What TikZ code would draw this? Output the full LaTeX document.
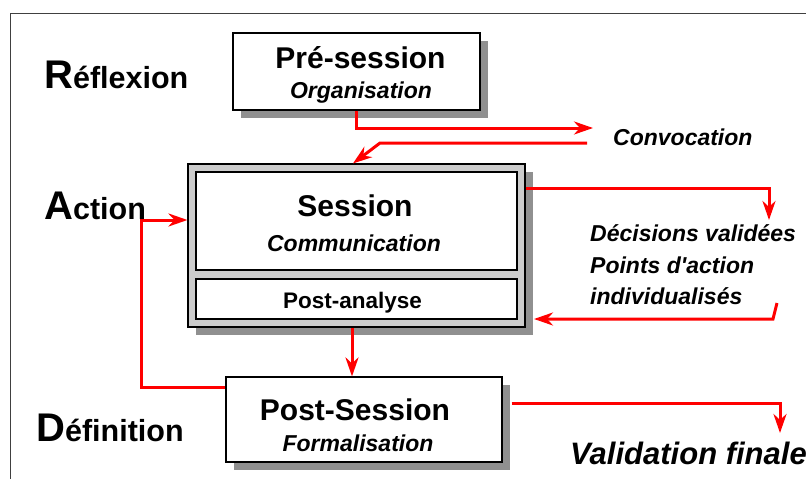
\documentclass[tikz,border=0pt]{standalone}
\usepackage{fontspec}
\setmainfont{Liberation Sans}
\usetikzlibrary{arrows.meta,shadows}

\definecolor{flowred}{HTML}{FF0000}
\definecolor{shadegray}{HTML}{909090}
\definecolor{framegray}{HTML}{CCCCCC}
\definecolor{edgegray}{HTML}{404040}

\newcommand{\fsz}[1]{\fontsize{#1}{#1}\selectfont}

\tikzset{
  x=1pt, y=-1pt,
  box/.style={draw=black, line width=1.1pt, fill=white, inner sep=0pt},
  shadowed/.style={general shadow={fill=shadegray, shadow xshift=8pt, shadow yshift=-8pt}},
  txt/.style={inner sep=0pt, anchor=base},
  lbl/.style={inner sep=0pt, anchor=base west},
  flow/.style={draw=flowred, line width=3pt,
    -{Stealth[length=19pt, width=13pt, inset=6pt]}},
}

\begin{document}
\begin{tikzpicture}
\useasboundingbox (0,0) rectangle (806,479);

% outer frame (only top and left edges fall inside the page)
\draw[edgegray, line width=1pt] (806,13) -- (10,13) -- (10,479);

% boxes
\node[box, shadowed, minimum width=247pt, minimum height=77pt] (pre) at (356.5,71.5) {};
\node[box, shadowed, fill=framegray, minimum width=337pt, minimum height=163pt] (sessouter) at (356.5,245.5) {};
\node[box, minimum width=321pt, minimum height=98pt] (sess) at (356.5,221) {};
\node[box, minimum width=321pt, minimum height=40pt] (postan) at (356.5,299) {};
\node[box, shadowed, minimum width=276pt, minimum height=85pt] (postsess) at (364,419.5) {};

% box texts
\node[txt] (pretitle) at (360.5,68) {\fsz{30}\bfseries Pré-session};
\node[txt] (presub) at (361,98) {\fsz{23}\bfseries\itshape Organisation};
\node[txt] (sesstitle) at (355,216.5) {\fsz{30}\bfseries Session};
\node[txt] (sesssub) at (354,251.5) {\fsz{23}\bfseries\itshape Communication};
\node[txt] (postantitle) at (352.5,308) {\fsz{22.5}\bfseries Post-analyse};
\node[txt] (postsesstitle) at (355,420) {\fsz{30}\bfseries Post-Session};
\node[txt] (postsesssub) at (358,451) {\fsz{23}\bfseries\itshape Formalisation};

% phase labels
\node[lbl] (reflexion) at (44,88.5) {\bfseries\fsz{40}R\fsz{30.5}éflexion};
\node[lbl] (action) at (44,219) {\bfseries\fsz{40}A\fsz{30.5}ction};
\node[lbl] (definition) at (36,441) {\bfseries\fsz{40}D\fsz{30.5}éfinition};

% outputs
\node[lbl] (convoc) at (613,145) {\fsz{23}\bfseries\itshape Convocation};
\node[lbl] (dec1) at (590,241.5) {\fsz{23}\bfseries\itshape Décisions validées};
\node[lbl] (dec2) at (590,273.5) {\fsz{23}\bfseries\itshape Points d\textquotesingle action};
\node[lbl] (dec3) at (590,304) {\fsz{23}\bfseries\itshape individualisés};
\node[lbl] (valid) at (570,464) {\fsz{31}\bfseries\itshape Validation finale};

% connector points
\coordinate (convtip) at (593,128);
\coordinate (convback) at (587,143);
\coordinate (convbend) at (380,143);
\coordinate (decturn) at (769,188);
\coordinate (dectip) at (769,220);
\coordinate (ticktop) at (777,303);
\coordinate (tickbot) at (773,319);
\coordinate (fbtip) at (534,319);
\coordinate (loopbot) at (141,387);
\coordinate (looptop) at (141,220);
\coordinate (valturn) at (780,403);
\coordinate (valtip) at (780,433);

% connectors
\draw[flow] (pre.south) |- (convtip);
\draw[flow] (convback) -- (convbend) -- ([xshift=-3.5pt]sessouter.north);
\draw[flow] (sessouter.east |- decturn) -- (decturn) -- (dectip);
\draw[flow] (ticktop) -- (tickbot) -- (fbtip);
\draw[flow] ([xshift=-4.5pt]sessouter.south) -- ([xshift=-4.5pt]sessouter.south |- postsess.north);
\draw[flow] (postsess.west |- loopbot) -- (loopbot) -- (looptop) -- (sessouter.west |- looptop);
\draw[flow] ([xshift=9pt]postsess.east |- valturn) -- (valturn) -- (valtip);
\end{tikzpicture}
\end{document}
